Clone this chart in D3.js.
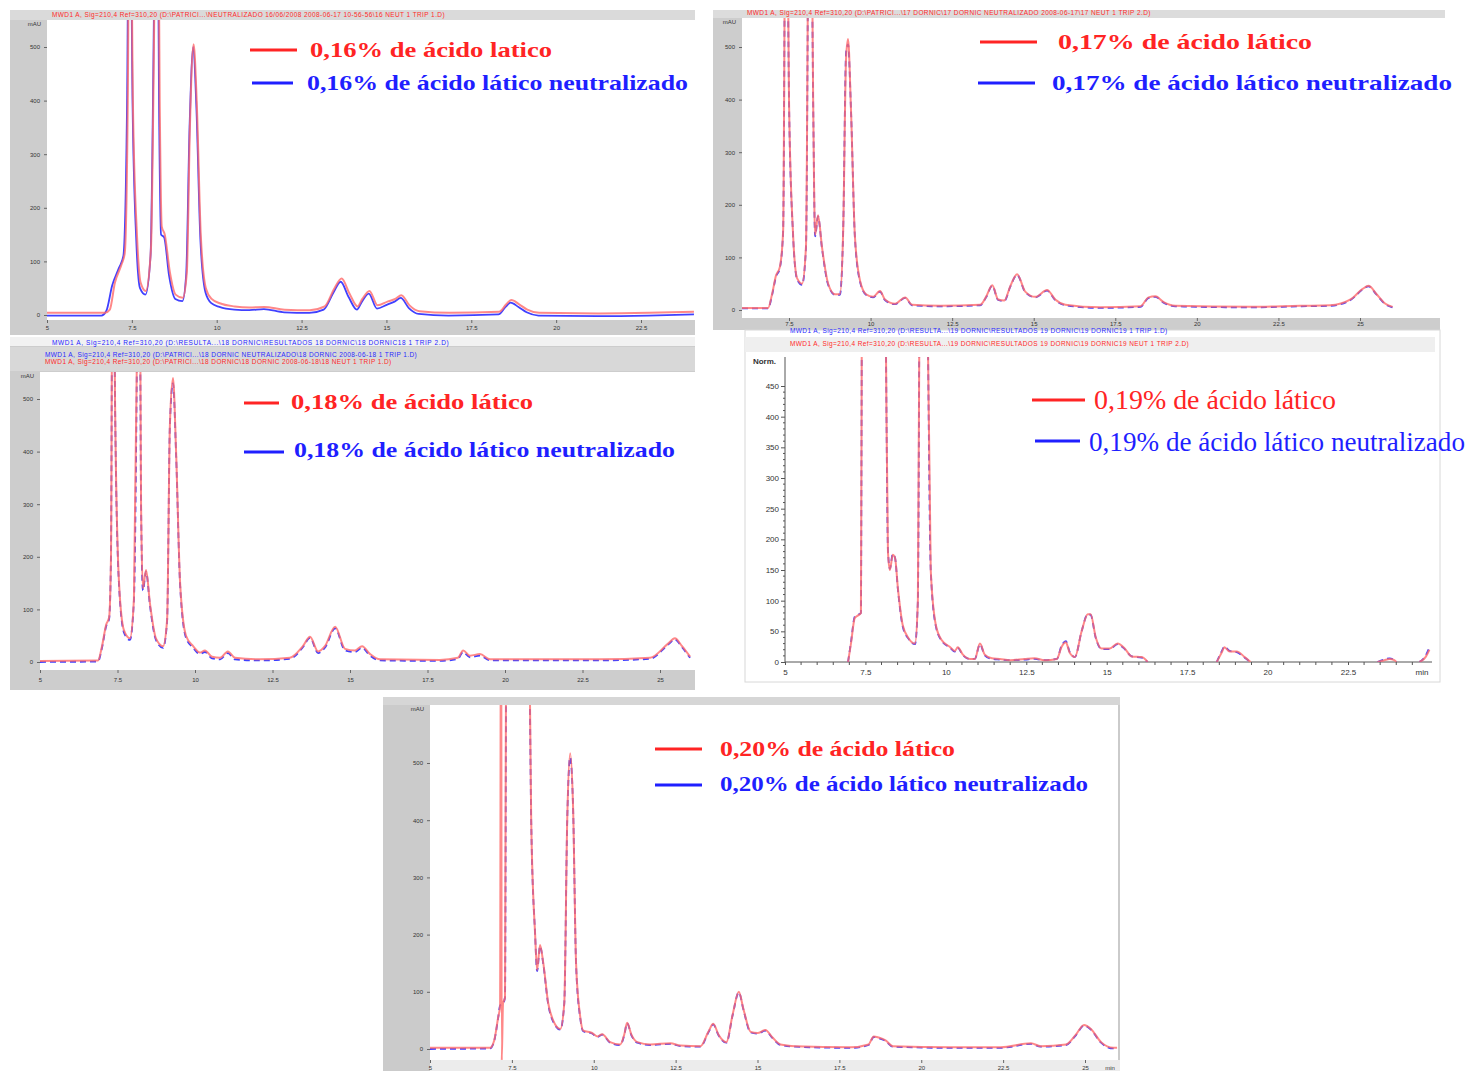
<!DOCTYPE html>
<html>
<head>
<meta charset="utf-8">
<script src="https://cdn.jsdelivr.net/npm/d3@7"></script>
<style>
  body { margin: 0; background: #fff; }
  svg { display: block; font-family: "Liberation Sans", Arial, sans-serif; }
</style>
</head>
<body>
<svg id="chart" width="1472" height="1071"></svg>
<script>
// ---- Chromatogram traces: [retention time (min), absorbance] ----
// null marks a gap where the detector trace is not drawn.

const p1Lactic = [[5,4],[6.71,4],[6.85,10],[7.0,60],[7.2,95],[7.29,115],[7.38,400],[7.44,1000],[7.53,400],[7.65,150],[7.76,60],[7.91,45],[8.06,120],[8.15,500],[8.24,1100],[8.32,400],[8.38,165],[8.47,150],[8.62,80],[8.79,38],[9.0,32],[9.12,80],[9.21,350],[9.32,505],[9.41,400],[9.53,150],[9.68,50],[9.85,30],[10.09,22],[10.53,16],[10.97,14],[11.4,15],[12.0,10],[12.74,9],[13.18,16],[13.47,50],[13.68,68],[13.91,40],[14.15,16],[14.29,30],[14.5,45],[14.74,18],[15.03,25],[15.26,30],[15.44,37],[15.68,18],[15.97,7],[16.85,4],[18.32,6],[18.53,20],[18.68,28],[18.91,20],[19.15,10],[19.5,4],[21.26,3],[22.74,4],[24.06,6]];
const p1Neutral = [[5,-1],[6.6,-1],[6.75,8],[6.92,55],[7.12,88],[7.25,110],[7.36,400],[7.43,1000],[7.52,400],[7.63,140],[7.74,50],[7.9,38],[8.05,110],[8.14,500],[8.23,1100],[8.3,400],[8.36,150],[8.45,145],[8.6,72],[8.78,30],[8.99,26],[9.1,75],[9.2,350],[9.31,500],[9.4,390],[9.52,140],[9.67,42],[9.84,22],[10.08,15],[10.52,10],[10.96,9],[11.39,11],[11.99,5],[12.73,4],[13.15,10],[13.44,42],[13.65,62],[13.89,33],[14.13,10],[14.27,24],[14.48,40],[14.72,12],[15.01,19],[15.24,25],[15.42,32],[15.66,13],[15.95,2],[16.83,-1],[18.3,1],[18.51,15],[18.66,23],[18.89,15],[19.13,5],[19.48,-1],[21.24,-2],[22.72,-1],[24.06,1]];

const p2Lactic = [[6.06,4],[6.86,4],[6.98,30],[7.1,65],[7.22,82],[7.32,150],[7.41,1000],[7.5,400],[7.62,150],[7.75,60],[7.9,50],[8.02,120],[8.14,1100],[8.24,400],[8.3,143],[8.39,180],[8.51,120],[8.7,50],[8.91,30],[9.06,30],[9.16,150],[9.25,480],[9.31,515],[9.4,380],[9.52,140],[9.68,55],[9.86,30],[10.08,25],[10.29,36],[10.44,20],[10.75,12],[11.06,24],[11.27,10],[12.13,8],[13.36,10],[13.54,25],[13.73,47],[13.91,20],[14.1,18],[14.28,45],[14.49,68],[14.74,35],[15.05,25],[15.41,38],[15.66,20],[15.97,10],[17.04,5],[18.27,7],[18.52,24],[18.73,26],[18.98,15],[19.34,8],[21.64,6],[23.17,8],[24.09,9],[24.71,20],[25.08,40],[25.26,46],[25.51,30],[25.78,12],[26.0,6]];
const p2Neutral = [[6.06,3],[6.86,3],[6.98,28],[7.1,63],[7.22,80],[7.32,150],[7.41,1000],[7.5,400],[7.62,148],[7.75,58],[7.9,48],[8.02,118],[8.14,1100],[8.24,400],[8.3,140],[8.39,178],[8.51,118],[8.7,48],[8.91,29],[9.06,29],[9.16,150],[9.25,490],[9.31,505],[9.4,380],[9.52,138],[9.68,53],[9.86,29],[10.08,24],[10.29,35],[10.44,19],[10.75,11],[11.06,23],[11.27,9],[12.13,7],[13.36,9],[13.54,24],[13.73,46],[13.91,19],[14.1,17],[14.28,44],[14.49,67],[14.74,34],[15.05,24],[15.41,37],[15.66,19],[15.97,9],[17.04,4],[18.27,6],[18.52,23],[18.73,25],[18.98,14],[19.34,7],[21.64,5],[23.17,7],[24.09,8],[24.71,19],[25.08,39],[25.26,45],[25.51,29],[25.78,11],[26.0,5]];

const p3Lactic = [[5,2],[6.87,3],[7.0,30],[7.13,70],[7.23,85],[7.29,200],[7.35,1000],[7.42,500],[7.55,150],[7.71,60],[7.9,45],[8.03,120],[8.13,600],[8.19,1100],[8.26,300],[8.32,140],[8.42,175],[8.55,110],[8.74,45],[8.97,30],[9.1,80],[9.19,450],[9.29,540],[9.39,400],[9.52,150],[9.71,50],[9.94,30],[10.16,18],[10.32,22],[10.55,10],[10.81,8],[11.06,20],[11.29,8],[12.1,5],[13.06,8],[13.48,30],[13.71,48],[13.97,20],[14.19,30],[14.52,67],[14.84,25],[15.16,22],[15.39,30],[15.65,15],[15.97,5],[17.9,4],[18.48,8],[18.65,22],[18.87,12],[19.19,15],[19.52,5],[23.06,5],[24.68,8],[25.26,35],[25.48,45],[25.71,30],[25.97,10]];
const p3Neutral = [[5,0],[6.87,1],[7.0,27],[7.13,67],[7.23,82],[7.29,200],[7.35,1000],[7.42,500],[7.55,145],[7.71,56],[7.9,42],[8.03,118],[8.13,600],[8.19,1100],[8.26,300],[8.32,136],[8.42,172],[8.55,106],[8.74,42],[8.97,27],[9.1,78],[9.19,450],[9.29,530],[9.39,395],[9.52,146],[9.71,46],[9.94,27],[10.16,15],[10.32,19],[10.55,7],[10.81,5],[11.06,17],[11.29,5],[12.1,3],[13.06,6],[13.48,28],[13.71,46],[13.97,17],[14.19,27],[14.52,64],[14.84,22],[15.16,19],[15.39,27],[15.65,12],[15.97,3],[17.9,2],[18.48,6],[18.65,19],[18.87,9],[19.19,12],[19.52,3],[23.06,3],[24.68,6],[25.26,33],[25.48,43],[25.71,28],[25.97,8]];

const p4Lactic = [[6.96,0],[7.05,30],[7.17,72],[7.27,76],[7.36,80],[7.39,600],[7.45,1200],[7.8,1500],[8.07,1000],[8.14,500],[8.2,180],[8.26,150],[8.35,175],[8.42,170],[8.51,120],[8.66,60],[8.85,38],[9.04,30],[9.13,100],[9.19,700],[9.29,1200],[9.41,700],[9.53,150],[9.69,60],[9.88,35],[10.12,25],[10.28,18],[10.37,24],[10.53,12],[10.75,5],[10.9,5],[11.06,30],[11.21,12],[11.43,6],[11.68,5],[11.99,3],[12.45,5],[12.76,6],[13.07,3],[13.45,5],[13.6,25],[13.73,32],[13.85,15],[14.01,8],[14.22,50],[14.41,78],[14.5,78],[14.66,40],[14.84,22],[15.09,22],[15.34,30],[15.56,22],[15.78,9],[16.09,8],[16.27,0],[16.3,null],[18.42,0],[18.57,15],[18.66,24],[18.82,17],[19.04,17],[19.29,8],[19.47,0],[19.5,null],[23.42,0],[23.63,3],[23.79,5],[23.94,3],[24.0,0],[24.1,null],[24.72,0],[24.91,8],[25.03,20]];
const p4Neutral = [[6.96,0],[7.05,32],[7.17,74],[7.27,77],[7.36,80],[7.39,600],[7.45,1200],[7.8,1500],[8.07,1000],[8.14,500],[8.2,182],[8.26,152],[8.35,176],[8.42,170],[8.51,118],[8.66,58],[8.85,37],[9.04,29],[9.13,100],[9.19,700],[9.29,1200],[9.41,700],[9.53,150],[9.69,58],[9.88,34],[10.12,24],[10.28,17],[10.37,23],[10.53,11],[10.75,5],[10.9,5],[11.06,29],[11.21,11],[11.43,5],[11.68,4],[11.99,3],[12.45,4],[12.76,5],[13.07,3],[13.45,5],[13.6,27],[13.73,34],[13.85,16],[14.01,8],[14.22,50],[14.41,78],[14.5,77],[14.66,39],[14.84,21],[15.09,21],[15.34,29],[15.56,21],[15.78,9],[16.09,7],[16.27,0],[16.3,null],[18.42,0],[18.57,17],[18.66,25],[18.82,18],[19.04,16],[19.29,7],[19.47,0],[19.5,null],[23.42,0],[23.63,4],[23.79,6],[23.94,3],[24.0,0],[24.1,null],[24.72,0],[24.91,10],[25.03,24]];

const p5Lactic = [[5,2],[6.83,2],[6.96,15],[7.08,55],[7.14,75],[7.17,1000],[7.19,-20],[7.23,80],[7.29,90],[7.35,1200],[7.6,1500],[8.0,900],[8.09,400],[8.21,200],[8.27,138],[8.36,182],[8.46,150],[8.61,80],[8.76,50],[8.98,35],[9.1,80],[9.19,400],[9.28,517],[9.37,420],[9.46,150],[9.59,55],[9.68,32],[9.95,28],[10.11,22],[10.26,26],[10.5,12],[10.81,8],[10.93,25],[11.02,46],[11.15,25],[11.33,12],[11.73,8],[12.34,10],[12.65,6],[13.26,5],[13.5,30],[13.65,44],[13.81,25],[14.05,12],[14.24,60],[14.43,100],[14.57,70],[14.79,30],[15.0,28],[15.24,33],[15.46,20],[15.7,8],[16.16,5],[17.84,3],[18.39,8],[18.55,22],[18.7,20],[18.91,15],[19.13,5],[20.9,3],[22.43,3],[23.35,10],[23.65,5],[24.42,8],[24.72,25],[24.97,42],[25.18,35],[25.49,12],[25.86,2],[25.98,2]];
const p5Neutral = [[5,0],[6.83,1],[6.96,14],[7.08,54],[7.14,76],[7.23,80],[7.29,90],[7.35,1200],[7.6,1500],[8.0,900],[8.09,400],[8.21,200],[8.27,136],[8.36,180],[8.46,148],[8.61,78],[8.76,48],[8.98,34],[9.1,80],[9.19,400],[9.28,510],[9.37,420],[9.46,148],[9.59,53],[9.68,31],[9.95,27],[10.11,21],[10.26,25],[10.5,11],[10.81,7],[10.93,24],[11.02,45],[11.15,24],[11.33,11],[11.73,7],[12.34,9],[12.65,5],[13.26,4],[13.5,29],[13.65,43],[13.81,24],[14.05,11],[14.24,59],[14.43,99],[14.57,69],[14.79,29],[15.0,27],[15.24,32],[15.46,19],[15.7,7],[16.16,4],[17.84,2],[18.39,7],[18.55,21],[18.7,19],[18.91,14],[19.13,4],[20.9,2],[22.43,2],[23.35,9],[23.65,4],[24.42,7],[24.72,24],[24.97,41],[25.18,34],[25.49,11],[25.86,1],[25.98,1]];

// ---- Legend labels ----
const lacticLabels  = ["0,16% de ácido latico", "0,17% de ácido lático", "0,18% de ácido lático", "0,19% de ácido lático", "0,20% de ácido lático"];
const neutralLabels = ["0,16% de ácido lático neutralizado", "0,17% de ácido lático neutralizado", "0,18% de ácido lático neutralizado", "0,19% de ácido lático neutralizado", "0,20% de ácido lático neutralizado"];

// ---- Axis ticks ----
const timeTicks = [5, 7.5, 10, 12.5, 15, 17.5, 20, 22.5, 25];
const mauTicks  = [0, 100, 200, 300, 400, 500];
const normTicks = [0, 50, 100, 150, 200, 250, 300, 350, 400, 450];

// ---- Instrument header lines ----
const headerLines = [
  [{ c: "#ff2a2a", t: "MWD1 A, Sig=210,4 Ref=310,20 (D:\\PATRICI...\\NEUTRALIZADO 16/06/2008 2008-06-17 10-56-56\\16 NEUT 1 TRIP 1.D)" }],
  [{ c: "#ff2a2a", t: "MWD1 A, Sig=210,4 Ref=310,20 (D:\\PATRICI...\\17 DORNIC\\17 DORNIC NEUTRALIZADO 2008-06-17\\17 NEUT 1 TRIP 2.D)" }],
  [{ c: "#2a2aff", t: "MWD1 A, Sig=210,4 Ref=310,20 (D:\\PATRICI...\\18 DORNIC NEUTRALIZADO\\18 DORNIC 2008-06-18 1 TRIP 1.D)" },
   { c: "#ff2a2a", t: "MWD1 A, Sig=210,4 Ref=310,20 (D:\\PATRICI...\\18 DORNIC\\18 DORNIC 2008-06-18\\18 NEUT 1 TRIP 1.D)" }],
  [{ c: "#2a2aff", t: "MWD1 A, Sig=210,4 Ref=310,20 (D:\\RESULTA...\\19 DORNIC\\RESULTADOS 19 DORNIC\\19 DORNIC19 1 TRIP 1.D)" },
   { c: "#ff2a2a", t: "MWD1 A, Sig=210,4 Ref=310,20 (D:\\RESULTA...\\19 DORNIC\\RESULTADOS 19 DORNIC\\19 DORNIC19 NEUT 1 TRIP 2.D)" }],
  []
];

const series = [
  [p1Lactic, p1Neutral], [p2Lactic, p2Neutral], [p3Lactic, p3Neutral], [p4Lactic, p4Neutral], [p5Lactic, p5Neutral]
];

// ---- Panel layout (pixels) ----
const layout = [
  { frame: [10, 10, 685, 325], head: [10, 10, 685, 10], plot: [47, 20, 648, 300],
    xMap: [5, 47, 22.5, 641], yMap: [0, 315, 500, 47], xTicks: timeTicks.slice(0, 8), yTicks: mauTicks, yUnit: "mAU",
    xLabelY: 330, headY: [17], bg: "#cdcdcd", headBg: "#dadada",
    leg: { red: [250, 297, 50], blue: [252, 293, 83], rt: [310, 57, 242], bt: [307, 90, 381], size: 21, weight: "bold" }, blueDash: null },
  { frame: [713, 10, 727, 320], head: [713, 10, 732, 8], plot: [742, 18, 698, 300],
    xMap: [7.5, 789, 25, 1360], yMap: [0, 310, 500, 47], xTicks: timeTicks.slice(1), yTicks: mauTicks, yUnit: "mAU",
    xLabelY: 326, headY: [15], bg: "#cdcdcd", headBg: "#dcdcdc",
    leg: { red: [980, 1037, 42], blue: [978, 1035, 83], rt: [1058, 49, 254], bt: [1052, 90, 400], size: 21, weight: "bold" }, blueDash: "6 4" },
  { frame: [10, 337, 685, 353], head: [10, 347, 685, 24], plot: [40, 372, 655, 298],
    xMap: [5, 40, 25, 660], yMap: [0, 662, 500, 399], xTicks: timeTicks, yTicks: mauTicks, yUnit: "mAU",
    xLabelY: 682, headY: [357, 364], bg: "#cdcdcd", headBg: "#d8d8d8",
    leg: { red: [244, 279, 403], blue: [244, 284, 452], rt: [291, 409, 242], bt: [294, 457, 381], size: 21, weight: "bold" }, blueDash: "6 4" },
  { frame: [745, 330, 695, 352], head: [745, 337, 690, 15], plot: [785, 357, 647, 305],
    xMap: [5, 785, 22.5, 1348], yMap: [0, 662, 450, 386], xTicks: timeTicks.slice(0, 8), yTicks: normTicks, yUnit: "Norm.",
    xLabelY: 675, headY: [333, 346], bg: "#ffffff", headBg: "#efefef",
    leg: { red: [1032, 1085, 400], blue: [1035, 1080, 441], rt: [1094, 409, 242], bt: [1089, 451, 376], size: 27, weight: "normal" }, blueDash: "6 4" },
  { frame: [383, 697, 737, 374], head: [383, 697, 737, 8], plot: [430, 705, 688, 355],
    xMap: [5, 430, 25, 1085], yMap: [0, 1049, 500, 763], xTicks: timeTicks, yTicks: mauTicks, yUnit: "mAU",
    xLabelY: 1070, headY: [], bg: "#cbcbcb", headBg: "#d6d6d6",
    leg: { red: [655, 702, 749], blue: [655, 702, 785], rt: [720, 756, 235], bt: [720, 791, 368], size: 21, weight: "bold" }, blueDash: "6 4" }
];

const RED = "#ff2424", BLUE = "#1f1fff";
const SERIF = '"Liberation Serif", "Times New Roman", serif';
const SANS = '"Liberation Sans", Arial, sans-serif';
const svg = d3.select("#chart");
const defs = svg.append("defs");

layout.forEach((L, i) => {
  const g = svg.append("g");
  const [fx, fy, fw, fh] = L.frame;
  const [px, py, pw, ph] = L.plot;
  const isNorm = L.yUnit === "Norm.";

  // frame and header strips
  g.append("rect").attr("x", fx).attr("y", fy).attr("width", fw).attr("height", fh).attr("fill", L.bg)
    .attr("stroke", isNorm ? "#d8d8d8" : "none");
  g.append("rect").attr("x", L.head[0]).attr("y", L.head[1]).attr("width", L.head[2]).attr("height", L.head[3]).attr("fill", L.headBg);
  if (i === 2) g.append("rect").attr("x", 10).attr("y", 337).attr("width", 685).attr("height", 9).attr("fill", "#f2f2f2");
  if (i === 4) g.append("rect").attr("x", 430).attr("y", 1060).attr("width", 690).attr("height", 11).attr("fill", "#ececec");
  g.append("rect").attr("x", px).attr("y", py).attr("width", pw).attr("height", ph).attr("fill", "#fff");

  // instrument header text
  headerLines[i].forEach((h, k) => {
    g.append("text").attr("x", px + 5).attr("y", L.headY[k]).attr("fill", h.c)
      .style("font-family", SANS).style("font-size", "6.5px").attr("letter-spacing", 0.4).text(h.t);
  });
  if (i === 2) {
    g.append("text").attr("x", 52).attr("y", 345).attr("fill", BLUE).attr("letter-spacing", 0.6)
      .style("font-family", SANS).style("font-size", "6.5px")
      .text("MWD1 A, Sig=210,4 Ref=310,20 (D:\\RESULTA...\\18 DORNIC\\RESULTADOS 18 DORNIC\\18 DORNIC18 1 TRIP 2.D)");
  }

  const x = d3.scaleLinear().domain([L.xMap[0], L.xMap[2]]).range([L.xMap[1], L.xMap[3]]);
  const y = d3.scaleLinear().domain([L.yMap[0], L.yMap[2]]).range([L.yMap[1], L.yMap[3]]);
  const tickFont = (isNorm ? 8 : 6) + "px";
  const axisColor = isNorm ? "#555" : "#666";

  // y axis
  const yAxis = g.append("g").attr("transform", `translate(${px},0)`)
    .call(d3.axisLeft(y).tickValues(L.yTicks).tickSize(isNorm ? 4 : 3).tickPadding(isNorm ? 2 : 4).tickFormat(d3.format("d")));
  yAxis.select(".domain").attr("stroke", isNorm ? axisColor : "none").attr("d", `M0,${py}V${isNorm ? y(0) : py + ph}`);
  yAxis.selectAll(".tick line").attr("stroke", axisColor);
  yAxis.selectAll(".tick text").style("font-size", tickFont).style("font-family", SANS).attr("fill", "#333");
  if (isNorm) {
    const minorY = d3.range(0, 460, 10).filter(v => v % 50 !== 0);
    yAxis.selectAll(".minor").data(minorY).join("line").attr("class", "minor")
      .attr("x1", -2).attr("x2", 0).attr("y1", d => y(d)).attr("y2", d => y(d)).attr("stroke", axisColor);
  }
  g.append("text").attr("x", px - (isNorm ? 9 : 6)).attr("y", py + (isNorm ? 7 : 6)).attr("text-anchor", "end")
    .style("font-size", tickFont).style("font-family", SANS).attr("font-weight", isNorm ? "bold" : "normal")
    .attr("fill", "#333").text(L.yUnit);

  // x axis
  const baseY = isNorm ? y(0) : py + ph;
  const xAxis = g.append("g").attr("transform", `translate(0,${baseY})`)
    .call(d3.axisBottom(x).tickValues(L.xTicks).tickSize(3).tickPadding(1).tickFormat(d => String(d)));
  xAxis.select(".domain").attr("stroke", isNorm ? axisColor : "none");
  xAxis.selectAll(".tick line").attr("stroke", axisColor);
  xAxis.selectAll(".tick text").style("font-size", tickFont).style("font-family", SANS).attr("fill", "#333")
    .attr("dy", 0).attr("y", L.xLabelY - baseY);
  if (isNorm) {
    const minorX = d3.range(5, 25.01, 0.5).filter(v => v % 2.5 !== 0);
    xAxis.selectAll(".minor").data(minorX).join("line").attr("class", "minor")
      .attr("x1", d => x(d)).attr("x2", d => x(d)).attr("y1", 0).attr("y2", 3).attr("stroke", axisColor);
    xAxis.select(".domain").attr("d", `M${px},0H${px + pw}`);
  }
  if (i >= 3) {
    g.append("text").attr("x", i === 3 ? 1422 : 1110).attr("y", L.xLabelY).attr("text-anchor", "middle")
      .style("font-size", tickFont).style("font-family", SANS).attr("fill", "#333").text("min");
  }

  // traces
  const clipId = "clip" + i;
  defs.append("clipPath").attr("id", clipId).append("rect").attr("x", px).attr("y", py).attr("width", pw).attr("height", ph);
  const line = d3.line().defined(d => d[1] !== null).x(d => x(d[0])).y(d => y(d[1])).curve(d3.curveMonotoneX);
  const traces = g.append("g").attr("clip-path", `url(#${clipId})`);
  const [lactic, neutral] = series[i];
  traces.append("path").attr("d", line(neutral)).attr("fill", "none").attr("stroke", BLUE)
    .attr("stroke-width", 1.8).attr("stroke-opacity", 0.85).attr("stroke-dasharray", L.blueDash);
  traces.append("path").attr("d", line(lactic)).attr("fill", "none").attr("stroke", "#ff6a6a")
    .attr("stroke-width", 2).attr("stroke-opacity", 0.8);

  // legend
  const lg = L.leg;
  g.append("line").attr("x1", lg.red[0]).attr("x2", lg.red[1]).attr("y1", lg.red[2]).attr("y2", lg.red[2])
    .attr("stroke", RED).attr("stroke-width", 3);
  g.append("line").attr("x1", lg.blue[0]).attr("x2", lg.blue[1]).attr("y1", lg.blue[2]).attr("y2", lg.blue[2])
    .attr("stroke", BLUE).attr("stroke-width", 3);
  g.append("text").attr("x", lg.rt[0]).attr("y", lg.rt[1]).attr("textLength", lg.rt[2]).attr("lengthAdjust", "spacingAndGlyphs")
    .style("font-family", SERIF).style("font-size", lg.size + "px").style("font-weight", lg.weight)
    .attr("fill", RED).text(lacticLabels[i]);
  g.append("text").attr("x", lg.bt[0]).attr("y", lg.bt[1]).attr("textLength", lg.bt[2]).attr("lengthAdjust", "spacingAndGlyphs")
    .style("font-family", SERIF).style("font-size", lg.size + "px").style("font-weight", lg.weight)
    .attr("fill", BLUE).text(neutralLabels[i]);
});
</script>
</body>
</html>
